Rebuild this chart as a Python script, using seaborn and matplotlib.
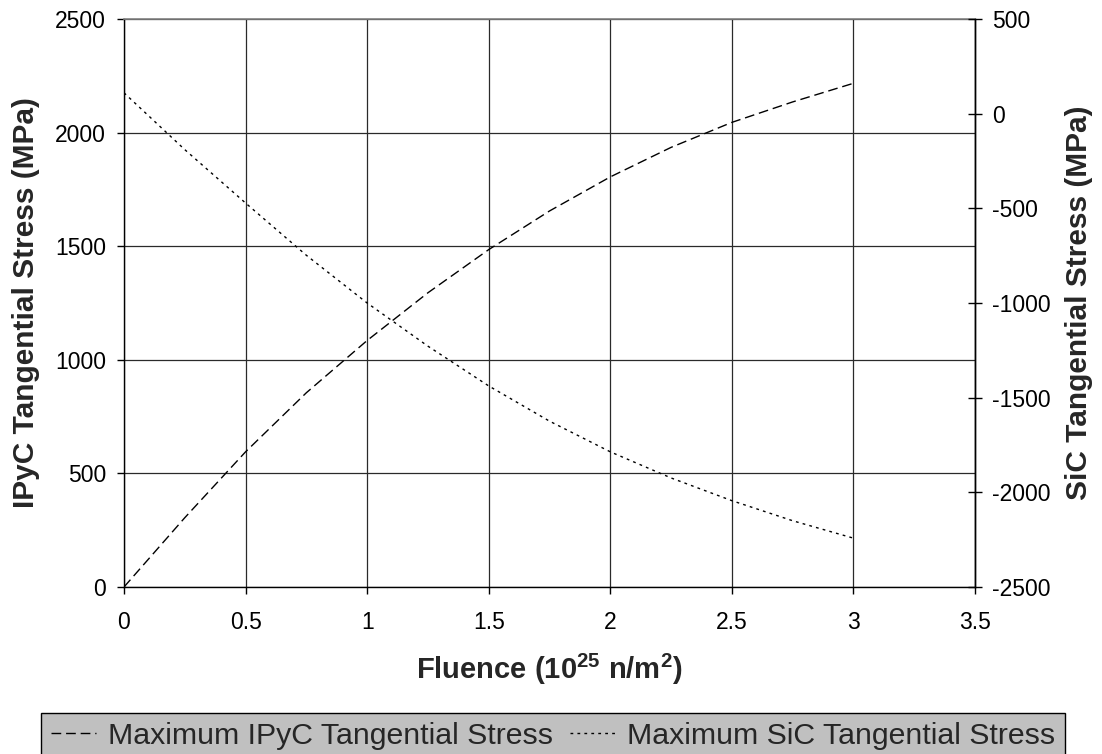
import matplotlib
matplotlib.use("Agg")
import matplotlib.pyplot as plt
import seaborn as sns
import pandas as pd

# Fluence (10^25 n/m^2)
fluence = [0.0, 0.25, 0.5, 0.75, 1.0, 1.25, 1.5, 1.75, 2.0, 2.25, 2.5, 2.75, 3.0]
# Maximum tangential stresses (MPa)
ipyc_stress = [0, 305, 595, 855, 1085, 1295, 1485, 1655, 1805, 1935, 2045, 2135, 2217]
sic_stress = [110, -190, -472, -748, -1000, -1228, -1438, -1624, -1786, -1924, -2044, -2150, -2242]

x_ticks = [0, 0.5, 1, 1.5, 2, 2.5, 3, 3.5]
left_ticks = [0, 500, 1000, 1500, 2000, 2500]
right_ticks = [-2500, -2000, -1500, -1000, -500, 0, 500]

ipyc_label = "Maximum IPyC Tangential Stress"
sic_label = "Maximum SiC Tangential Stress"

sns.set_theme(style="white")
plt.rcParams["font.family"] = ["Liberation Sans", "DejaVu Sans"]
plt.rcParams["mathtext.fontset"] = "custom"
plt.rcParams["mathtext.rm"] = "Liberation Sans"
plt.rcParams["mathtext.bf"] = "Liberation Sans:bold"
plt.rcParams["axes.unicode_minus"] = False

df_ipyc = pd.DataFrame({"Fluence": fluence, "Stress": ipyc_stress})
df_sic = pd.DataFrame({"Fluence": fluence, "Stress": sic_stress})

fig = plt.figure(figsize=(11.02, 7.54), dpi=100)
ax = fig.add_axes([124 / 1102, 1 - 587 / 754, (975 - 124) / 1102, (587 - 19) / 754])
ax2 = ax.twinx()

sns.lineplot(data=df_ipyc, x="Fluence", y="Stress", ax=ax, color="black",
             linewidth=1.0, dashes=False, legend=False)
sns.lineplot(data=df_sic, x="Fluence", y="Stress", ax=ax2, color="black",
             linewidth=1.0, dashes=False, legend=False)
l1 = ax.lines[0]
l1.set_dashes((7, 3.5))
l2 = ax2.lines[0]
l2.set_dashes((2, 3))

ax.set_xlim(0, 3.5)
ax.set_ylim(0, 2500)
ax2.set_ylim(-2500, 500)
ax.set_xticks(x_ticks)
ax.set_xticklabels([f"{t:g}" for t in x_ticks])
ax.set_yticks(left_ticks)
ax2.set_yticks(right_ticks)

ax.grid(True, color="#2a2a2a", linewidth=0.9)
ax.set_axisbelow(True)

for spine in ("left", "bottom", "right"):
    ax.spines[spine].set_color("black")
    ax.spines[spine].set_linewidth(1.0)
ax.spines["top"].set_color("#808080")
ax.spines["top"].set_linewidth(1.2)
for spine in ax2.spines.values():
    spine.set_visible(False)
ax2.spines["right"].set_visible(True)
ax2.spines["right"].set_color("black")
ax2.spines["right"].set_linewidth(1.0)

ax.tick_params(axis="both", which="major", labelsize=16.5, colors="black",
               direction="out", length=5, width=1.0)
ax.tick_params(axis="y", left=True, right=False, pad=8)
ax.tick_params(axis="x", bottom=True, pad=12)
ax2.tick_params(axis="y", labelsize=16.5, colors="black", direction="inout",
                length=10.5, width=1.0, pad=7, right=True)

ax.set_xlabel(r"Fluence (10$^{\mathbf{25}}$ n/m$^{\mathbf{2}}$)",
              fontsize=21, fontweight="bold", labelpad=13)
ax.set_ylabel("IPyC Tangential Stress (MPa)", fontsize=21.5, fontweight="bold", labelpad=11)
ax2.set_ylabel("SiC Tangential Stress (MPa)", fontsize=21.5, fontweight="bold", labelpad=10)

leg = fig.legend([l1, l2], [ipyc_label, sic_label], loc="upper center",
                 bbox_to_anchor=(553 / 1102, 1 - 713 / 754), ncol=2, fontsize=21.8,
                 frameon=True, fancybox=False, facecolor="#c0c0c0",
                 edgecolor="black", framealpha=1.0, handlelength=1.5,
                 handletextpad=0.4, columnspacing=0.55, borderpad=0.3,
                 borderaxespad=0)
leg.get_frame().set_linewidth(1.0)

fig.savefig("out.png", dpi=100)
